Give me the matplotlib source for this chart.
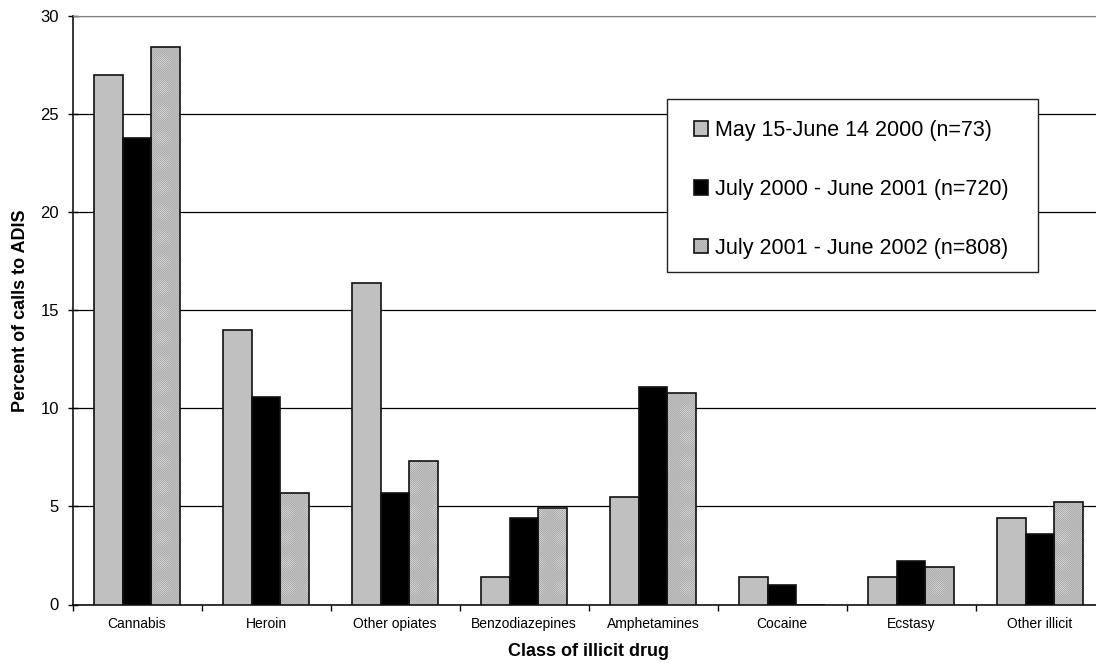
import matplotlib
matplotlib.use("Agg")
import matplotlib.pyplot as plt
from matplotlib.patches import Rectangle
import numpy as np

plt.rcParams["font.family"] = ["Liberation Sans", "DejaVu Sans"]
plt.rcParams["hatch.linewidth"] = 0.4

categories = ["Cannabis", "Heroin", "Other opiates", "Benzodiazepines",
              "Amphetamines", "Cocaine", "Ecstasy", "Other illicit"]
series_labels = ["May 15-June 14 2000 (n=73)",
                 "July 2000 - June 2001 (n=720)",
                 "July 2001 - June 2002 (n=808)"]
may_jun_2000 = [27.0, 14.0, 16.4, 1.4, 5.5, 1.4, 1.4, 4.4]
fy_2000_01 = [23.8, 10.6, 5.7, 4.4, 11.1, 1.0, 2.2, 3.6]
fy_2001_02 = [28.4, 5.7, 7.3, 4.9, 10.8, 0.0, 1.9, 5.2]
y_ticks = [0, 5, 10, 15, 20, 25, 30]

W, H = 1096, 663
fig = plt.figure(figsize=(W / 100, H / 100), dpi=100)
ax = fig.add_axes([72.5 / W, 1 - 604.5 / H, 1032 / W, 588.5 / H])

x = np.arange(len(categories)) + 0.5
w = 0.222
fills = [("#c0c0c0", None, "#c0c0c0"),
         ("#000000", None, "#000000"),
         ("#e2e2e2", "x" * 16, "#ababab")]

handles = []
for k, (vals, (fc, hatch, hc)) in enumerate(zip([may_jun_2000, fy_2000_01, fy_2001_02], fills)):
    pos = x + (k - 1) * w
    # fill (with fine pattern) first, then the dark outline on top
    body = ax.bar(pos, vals, width=w, facecolor=fc, hatch=hatch,
                  edgecolor=hc, linewidth=0, zorder=3)
    edge = ax.bar(pos, vals, width=w, fill=False, edgecolor="#111111",
                  linewidth=1.2, zorder=4)
    handles.append((body.patches[0], edge.patches[0]))

ax.set_xlim(0, len(categories))
ax.set_ylim(0, 30)
ax.set_yticks(y_ticks)
ax.set_yticklabels([str(t) for t in y_ticks], fontsize=12)
ax.yaxis.grid(True, color="#000000", linewidth=0.9)
ax.set_axisbelow(True)

ax.set_xticks(np.arange(len(categories) + 1))
ax.set_xticklabels([])
ax.set_xticks(x, minor=True)
ax.set_xticklabels(categories, minor=True, fontsize=10)
ax.tick_params(axis="x", which="major", direction="out", length=4, width=1)
ax.tick_params(axis="x", which="minor", length=0, pad=9)
ax.tick_params(axis="y", direction="inout", length=7.5, width=1, pad=6)

ax.spines["right"].set_visible(False)
ax.spines["top"].set_color("#808080")
ax.spines["left"].set_linewidth(1.1)
ax.spines["bottom"].set_linewidth(1.1)

ax.set_xlabel("Class of illicit drug", fontsize=13, fontweight="bold", labelpad=9)
ax.set_ylabel("Percent of calls to ADIS", fontsize=13, fontweight="bold", labelpad=8)

# legend box drawn as its own rectangle, entries placed on top of it
fig.patches.append(Rectangle((667 / W, 1 - 272 / H), (1038 - 667) / W,
                             (272 - 99) / H, transform=fig.transFigure,
                             facecolor="white", edgecolor="#222222",
                             linewidth=1.0, zorder=5))
leg = fig.legend(handles, series_labels, loc="upper left",
                 bbox_to_anchor=(694 / W, 1 - 120 / H),
                 bbox_transform=fig.transFigure, fontsize=15.5, frameon=False,
                 borderpad=0, labelspacing=1.76, handlelength=0.66,
                 handleheight=0.66, handletextpad=0.3, borderaxespad=0)
leg.set_zorder(6)

fig.savefig("out.png", dpi=100)
